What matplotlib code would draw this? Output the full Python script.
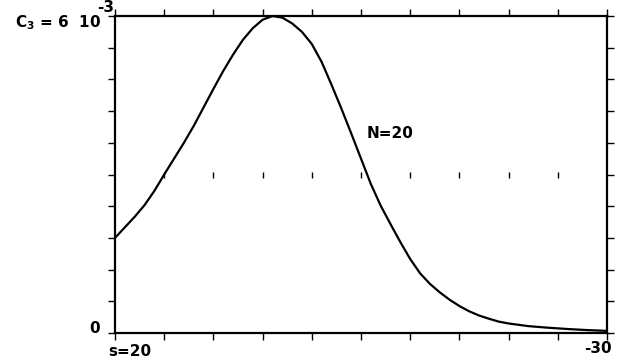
import matplotlib
matplotlib.use('Agg')
import matplotlib.pyplot as plt

plt.rcParams['mathtext.fontset'] = 'dejavusans'
plt.rcParams['mathtext.default'] = 'bf'

# values (s, C3 in units of 1e-3)
s_vals = [20, 19, 18, 17, 16, 15, 14, 13, 12, 11, 10, 9, 8, 7, 6, 5, 4, 3, 2, 1, 0,
          -1, -2, -3, -4, -5, -6, -7, -8, -9, -10, -11, -12, -13, -14, -15, -16, -17,
          -18, -19, -20, -22, -24, -26, -28, -30]
c3_vals = [1.80, 2.00, 2.20, 2.42, 2.69, 3.00, 3.30, 3.60, 3.92, 4.27, 4.62, 4.96, 5.27,
           5.55, 5.77, 5.93, 6.00, 5.97, 5.86, 5.70, 5.47, 5.13, 4.70, 4.25, 3.78, 3.30,
           2.82, 2.41, 2.06, 1.72, 1.40, 1.13, 0.93, 0.77, 0.63, 0.51, 0.41, 0.33, 0.27,
           0.215, 0.18, 0.13, 0.10, 0.075, 0.055, 0.04]

x_ticks = [20, 15, 10, 5, 0, -5, -10, -15, -20, -25, -30]
y_ticks = [0.6 * i for i in range(11)]
mid_ticks = [15, 10, 5, 0, -5, -10, -15, -20, -25]

fig = plt.figure(figsize=(6.24, 3.61), dpi=100)
ax = fig.add_axes([0.1843, 0.0776, 0.7885, 0.878])

ax.plot(s_vals, c3_vals, color='black', lw=1.6, solid_joinstyle='round')
# row of little ticks across the middle
ax.plot(mid_ticks, [3.0] * len(mid_ticks), ls='none', marker='|', ms=4, mew=1.0, color='black')

ax.set_xlim(20, -30)
ax.set_ylim(0, 6)
ax.set_xticks(x_ticks)
ax.set_yticks(y_ticks)
ax.tick_params(direction='out', length=5, width=1.0, top=True, right=True,
               labelbottom=False, labelleft=False)
for sp in ax.spines.values():
    sp.set_linewidth(1.6)

fs = 11
fig.text(0.024, 0.925, r'C$_3$ = 6  10', fontsize=fs, fontweight='bold', ha='left', va='baseline')
fig.text(0.155, 0.967, '-3', fontsize=fs, fontweight='bold', ha='left', va='baseline')
fig.text(0.151, 0.0914, '0', fontsize=fs, fontweight='bold', ha='center', va='center')
fig.text(0.208, 0.025, 's=20', fontsize=fs, fontweight='bold', ha='center', va='center')
fig.text(0.958, 0.036, '-30', fontsize=fs, fontweight='bold', ha='center', va='center')
ax.text(-5.6, 3.77, 'N=20', fontsize=fs, fontweight='bold', ha='left', va='center')

fig.savefig('out.png', dpi=100)
